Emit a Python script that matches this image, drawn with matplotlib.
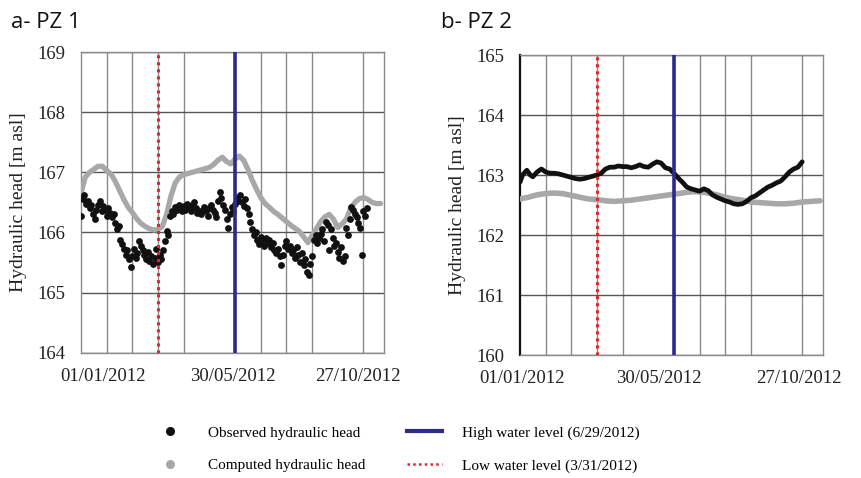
import numpy as np
import matplotlib
matplotlib.use("Agg")
import matplotlib.pyplot as plt
from matplotlib.lines import Line2D
import matplotlib.transforms as mtransforms

# ---------------- data ----------------
start_date = np.datetime64("2012-01-01")
low_water_date = np.datetime64("2012-03-31")
high_water_date = np.datetime64("2012-06-29")

tick_dates = ["2012-01-01", "2012-05-30", "2012-10-27"]
tick_labels = ["01/01/2012", "30/05/2012", "27/10/2012"]

# PZ1 observed (every 2 days from 01/01/2012)
pz1_obs_days = np.arange(0, 336, 2)
pz1_obs = [
    166.28, 166.55, 166.62, 166.48, 166.52, 166.40, 166.45, 166.30, 166.22, 166.38,
    166.46, 166.52, 166.35, 166.44, 166.38, 166.28, 166.40, 166.33, 166.26, 166.30,
    166.15, 166.05, 166.10, 165.88, 165.80, 165.72, 165.62, 165.70, 165.55, 165.42,
    165.60, 165.72, 165.58, 165.66, 165.85, 165.78, 165.70, 165.62, 165.55, 165.68,
    165.52, 165.60, 165.48, 165.58, 165.72, 165.50, 165.62, 165.55, 165.70, 165.85,
    166.02, 165.95, 166.28, 166.35, 166.30, 166.42, 166.38, 166.45, 166.40, 166.35,
    166.44, 166.38, 166.48, 166.42, 166.36, 166.45, 166.50, 166.40, 166.32, 166.36,
    166.30, 166.38, 166.42, 166.35, 166.28, 166.40, 166.46, 166.38, 166.32, 166.25,
    166.52, 166.68, 166.58, 166.45, 166.38, 166.22, 166.08, 166.30, 166.42, 166.35,
    166.48, 166.58, 166.52, 166.62, 166.50, 166.44, 166.55, 166.40, 166.30, 166.18,
    166.05, 165.95, 166.00, 165.88, 165.80, 165.92, 165.85, 165.78, 165.90, 165.82,
    165.88, 165.75, 165.82, 165.70, 165.65, 165.72, 165.60, 165.45, 165.62, 165.78,
    165.85, 165.72, 165.78, 165.65, 165.70, 165.58, 165.75, 165.62, 165.50, 165.65,
    165.45, 165.55, 165.35, 165.30, 165.48, 165.60, 165.88, 165.95, 165.82, 165.90,
    165.98, 166.05, 165.85, 166.18, 166.12, 165.70, 166.05, 165.90, 165.78, 165.82,
    165.68, 165.58, 165.75, 165.52, 165.60, 166.08, 165.95, 166.22, 166.42, 166.38,
    166.30, 166.25, 166.15, 166.08, 165.62, 166.35, 166.28, 166.40,
]

# PZ1 computed (every 5 days)
pz1_comp_days = np.arange(0, 355, 5)
pz1_comp = [
    166.65, 166.92, 167.00, 167.05, 167.10, 167.10, 167.03, 166.97, 166.85, 166.70,
    166.55, 166.42, 166.33, 166.23, 166.15, 166.10, 166.06, 166.04, 166.05, 166.10,
    166.30, 166.60, 166.82, 166.92, 166.96, 166.98, 167.00, 167.02, 167.04, 167.06,
    167.08, 167.13, 167.20, 167.25, 167.18, 167.14, 167.22, 167.27, 167.20, 167.05,
    166.87, 166.72, 166.58, 166.48, 166.42, 166.35, 166.30, 166.24, 166.18, 166.12,
    166.07, 166.02, 165.93, 165.83, 165.95, 166.06, 166.18, 166.26, 166.30, 166.22,
    166.08, 166.14, 166.22, 166.40, 166.50, 166.56, 166.58, 166.55, 166.50, 166.48,
    166.48,
]

# PZ2 observed
pz2_obs_days = [0, 3, 6, 8, 12, 15, 20, 25, 30, 35, 40, 45, 50, 55, 60, 65, 70, 75,
                80, 85, 90, 95, 100, 105, 110, 115, 120, 125, 130, 135, 140, 145,
                150, 155, 160, 165, 170, 175, 180, 185, 190, 195, 200, 205, 210,
                215, 220, 225, 230, 235, 240, 245, 250, 255, 260, 265, 270, 275,
                280, 285, 290, 295, 300, 305, 310, 315, 320, 325, 330]
pz2_obs = [162.88, 163.00, 163.05, 163.08, 163.00, 162.97, 163.05, 163.10, 163.05,
           163.03, 163.03, 163.02, 163.00, 162.98, 162.96, 162.94, 162.93, 162.94,
           162.96, 162.98, 163.00, 163.03, 163.10, 163.13, 163.13, 163.15, 163.14,
           163.14, 163.12, 163.14, 163.17, 163.14, 163.13, 163.18, 163.22, 163.20,
           163.12, 163.10, 163.03, 162.95, 162.88, 162.80, 162.77, 162.75, 162.73,
           162.77, 162.74, 162.67, 162.63, 162.60, 162.57, 162.55, 162.52, 162.51,
           162.52, 162.56, 162.62, 162.65, 162.70, 162.75, 162.80, 162.83, 162.87,
           162.90, 162.97, 163.05, 163.10, 163.13, 163.22]

# PZ2 computed
pz2_comp_days = [0, 10, 20, 30, 40, 50, 60, 70, 80, 90, 100, 110, 120, 130, 140,
                 150, 160, 170, 180, 190, 200, 210, 220, 230, 240, 250, 260, 270,
                 280, 290, 300, 310, 320, 330, 340, 351]
pz2_comp = [162.60, 162.63, 162.67, 162.69, 162.70, 162.69, 162.66, 162.63, 162.60,
            162.59, 162.57, 162.56, 162.57, 162.58, 162.60, 162.62, 162.64, 162.66,
            162.68, 162.70, 162.72, 162.72, 162.70, 162.67, 162.63, 162.60, 162.58,
            162.55, 162.54, 162.53, 162.52, 162.52, 162.53, 162.55, 162.56, 162.57]

grid_days = np.arange(0, 331, 30)
axis_end_day = 354

panel_titles = ["a- PZ 1", "b- PZ 2"]
y_ranges = [(164, 169), (160, 165)]
ylabel = "Hydraulic head [m asl]"
legend_labels = ["Observed hydraulic head", "Computed hydraulic head",
                 "High water level (6/29/2012)", "Low water level (3/31/2012)"]

# ---------------- style ----------------
SERIF = "Liberation Serif"
SANS = "Open Sans"
BLACK = "#111111"
GREY = "#a8a8a8"
NAVY = "#2b2b8c"
RED = "#e3252b"
GRIDC = "#8a8a8a"

def to_dates(days):
    return start_date + np.asarray(days).astype("timedelta64[D]")

fig = plt.figure(figsize=(8.62, 4.78), dpi=100)
ax1 = fig.add_axes([81 / 862, 1 - 352.7 / 478, 303 / 862, 300.7 / 478])
ax2 = fig.add_axes([520 / 862, 1 - 355 / 478, 302.7 / 862, 300 / 478])

# data
ax1.plot(to_dates(pz1_comp_days), pz1_comp, color=GREY, lw=3.8,
         solid_capstyle="round", solid_joinstyle="round", zorder=3)
ax1.scatter(to_dates(pz1_obs_days), pz1_obs, s=24, color=BLACK, linewidths=0, zorder=4)

ax2.plot(to_dates(pz2_comp_days), pz2_comp, color=GREY, lw=4.0,
         solid_capstyle="round", solid_joinstyle="round", zorder=3)
ax2.plot(to_dates(pz2_obs_days), pz2_obs, color=BLACK, lw=3.4,
         solid_capstyle="round", solid_joinstyle="round", zorder=4)

label_offsets = [[22, 23, 20], [2, 11, 22]]

for i, ax in enumerate([ax1, ax2]):
    ax.axvline(low_water_date, color=RED, lw=2.2, linestyle=(0, (1, 1.3)), zorder=5)
    ax.axvline(high_water_date, color=NAVY, lw=2.6, zorder=5)
    ax.set_xlim(start_date, start_date + np.timedelta64(axis_end_day, "D"))
    ax.set_ylim(*y_ranges[i])
    ax.set_yticks(np.arange(y_ranges[i][0], y_ranges[i][1] + 1, 1))
    ax.set_xticks(to_dates(grid_days), minor=True)
    ax.set_xticks(np.array(tick_dates, dtype="datetime64[D]"))
    ax.set_xticklabels(tick_labels)
    ax.grid(which="minor", axis="x", color=GRIDC, lw=1.0, zorder=0)
    ax.grid(which="major", axis="y", color="#555555", lw=1.0, zorder=0)
    ax.set_axisbelow(True)
    ax.tick_params(which="both", length=0)
    ax.tick_params(axis="y", pad=11, labelsize=13.5)
    ax.tick_params(axis="x", pad=11, labelsize=13.5)
    for lab in ax.get_xticklabels() + ax.get_yticklabels():
        lab.set_fontfamily(SERIF)
        lab.set_color("#222222")
    for sp in ax.spines.values():
        sp.set_color(GRIDC)
        sp.set_linewidth(1.0)
    ax.set_ylabel(ylabel, fontfamily=SERIF, fontsize=14, color="#222222", labelpad=8)
    for lab, dx in zip(ax.get_xticklabels(), label_offsets[i]):
        lab.set_transform(lab.get_transform() +
                          mtransforms.ScaledTranslation(dx / 100, 0, fig.dpi_scale_trans))

ax2.spines["left"].set_color("#111111")
ax2.spines["left"].set_linewidth(1.6)

# titles
fig.text(11 / 862, 1 - 22 / 478, panel_titles[0], fontfamily=SANS, fontsize=16,
         va="center", ha="left", color="#111111")
fig.text(441 / 862, 1 - 22 / 478, panel_titles[1], fontfamily=SANS, fontsize=16,
         va="center", ha="left", color="#111111")

# legend
fs = 11
em = fs * 100 / 72
handles = [
    Line2D([], [], linestyle="none", marker="o", markersize=5.5, color=BLACK),
    Line2D([], [], linestyle="none", marker="o", markersize=5.5, color=GREY),
    Line2D([], [], color=NAVY, lw=3),
    Line2D([], [], color=RED, lw=1.8, linestyle=(0, (1, 1.3))),
]
leg = fig.legend(handles, legend_labels, ncol=2, loc="upper left",
                 bbox_to_anchor=(153 / 862, 1 - 426 / 478), frameon=False,
                 prop={"family": SERIF, "size": fs}, handlelength=35 / em,
                 handletextpad=20 / em, columnspacing=42 / em, labelspacing=1.25,
                 borderpad=0, borderaxespad=0)

fig.savefig("out.png", dpi=100)
